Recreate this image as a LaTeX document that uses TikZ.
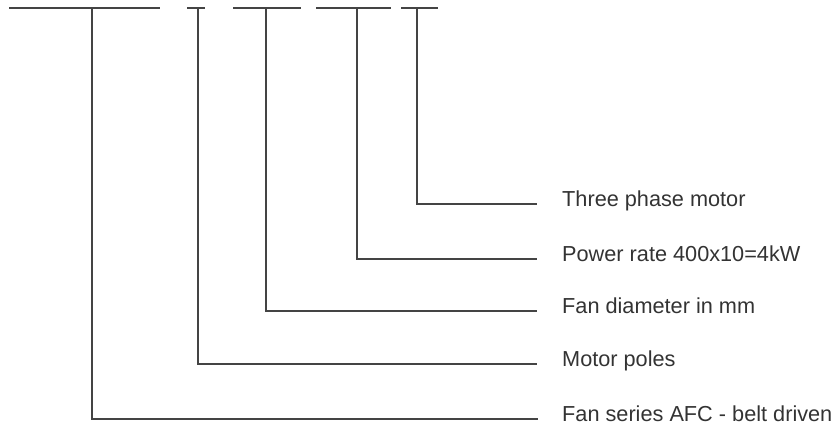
\documentclass[tikz,border=0pt]{standalone}
\usepackage{fontspec}
\setmainfont{Liberation Sans}
\usetikzlibrary{positioning}
\definecolor{linegray}{HTML}{444444}
\definecolor{textgray}{HTML}{333333}

\begin{document}
\begin{tikzpicture}[x=1pt, y=-1pt,
  bar/.style={draw=linegray, line width=1.4pt},
  lead/.style={draw=linegray, line width=1.4pt},
  lab/.style={anchor=mid west, inner sep=0pt, text=textgray,
              font=\fontsize{21.7}{26}\selectfont}]
\useasboundingbox (0,0) rectangle (839,428);
% the five fields of the type code
\coordinate (series) at (92,8);
\coordinate (poles)  at (198,8);
\coordinate (diam)   at (266,8);
\coordinate (power)  at (357,8);
\coordinate (phase)  at (417,8);
\draw[bar] (9,8) -- (160,8);
\draw[bar] (187,8) -- (205,8);
\draw[bar] (233,8) -- (301,8);
\draw[bar] (316,8) -- (391,8);
\draw[bar] (401,8) -- (438,8);
% labels
\node[lab] (phaselab)  at (562,204) {Three phase motor};
\node[lab] (powerlab)  at (562,259) {Power rate 400x10=4kW};
\node[lab] (diamlab)   at (562,311) {Fan diameter in mm};
\node[lab] (poleslab)  at (562,364) {Motor poles};
\node[lab] (serieslab) at (562,419) {Fan series AFC - belt driven};
\draw[lead] (phase)  |- ([xshift=-25pt]phaselab.mid west);
\draw[lead] (power)  |- ([xshift=-25pt]powerlab.mid west);
\draw[lead] (diam)   |- ([xshift=-25pt]diamlab.mid west);
\draw[lead] (poles)  |- ([xshift=-25pt]poleslab.mid west);
\draw[lead] (series) |- ([xshift=-24pt]serieslab.mid west);
\end{tikzpicture}
\end{document}
